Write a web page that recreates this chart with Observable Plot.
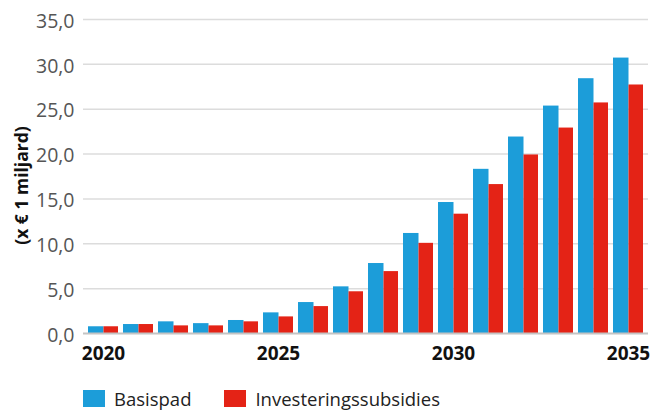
<!DOCTYPE html>
<html>
<head>
<meta charset="utf-8">
<script src="https://cdn.jsdelivr.net/npm/d3@7"></script>
<script src="https://cdn.jsdelivr.net/npm/@observablehq/plot@0.6"></script>
<style>
  body { margin: 0; background: #fff; font-family: "Open Sans", sans-serif; }
  #chart svg { display: block; }
  .legend { display: flex; align-items: center; margin-left: 83px; margin-top: 14px; font-size: 18.5px; color: #222; }
  .legend .sw { width: 22px; height: 17px; display: inline-block; margin-right: 9px; }
  .legend .item { display: flex; align-items: center; margin-right: 33px; }
</style>
</head>
<body>
<div id="chart"></div>
<script>
const years = [2020, 2021, 2022, 2023, 2024, 2025, 2026, 2027, 2028, 2029, 2030, 2031, 2032, 2033, 2034, 2035];
const basispad = [0.75, 1.0, 1.3, 1.1, 1.45, 2.3, 3.45, 5.2, 7.8, 11.15, 14.6, 18.3, 21.9, 25.35, 28.4, 30.7];
const subsidies = [0.75, 1.0, 0.85, 0.85, 1.3, 1.85, 3.0, 4.65, 6.9, 10.05, 13.3, 16.6, 19.9, 22.9, 25.7, 27.7];
const seriesNames = ["Basispad", "Investeringssubsidies"];
const colors = ["#1c9dd9", "#e42316"];
const yTicks = [0, 5, 10, 15, 20, 25, 30, 35];
const xTicks = [2020, 2025, 2030, 2035];

const dataB = years.map((y, i) => ({year: y, value: basispad[i]}));
const dataS = years.map((y, i) => ({year: y, value: subsidies[i]}));

const fmt = d => d.toFixed(1).replace(".", ",");

const plot = Plot.plot({
  width: 652,
  height: 372,
  marginLeft: 83,
  marginRight: 4,
  marginTop: 19,
  marginBottom: 39,
  style: {fontFamily: "Open Sans, sans-serif", background: "#fff"},
  x: {type: "band", domain: years, paddingInner: 0.15, paddingOuter: 0.075},
  y: {domain: [0, 35]},
  marks: [
    Plot.ruleY(yTicks.filter(d => d > 0), {stroke: "#dcdcdc", strokeWidth: 1.5}),
    Plot.barY(dataB, {x: "year", y: "value", fill: colors[0], insetRight: 14.5}),
    Plot.barY(dataS, {x: "year", y: "value", fill: colors[1], insetLeft: 15.5}),
    Plot.ruleY([0], {stroke: "#c4c4c4", strokeWidth: 2}),
    Plot.axisY({ticks: yTicks, tickFormat: fmt, tickSize: 0, tickPadding: 9, dy: 2, fontSize: 19.5, fill: "#555", label: null}),
    Plot.axisX({ticks: xTicks, tickFormat: d => String(d), tickSize: 0, tickPadding: 13, fontSize: 19, fontWeight: "bold", fill: "#111", label: null}),
    Plot.text(["(x € 1 miljard)"], {frameAnchor: "left", rotate: -90, dx: -61, dy: 9, textAnchor: "middle", lineAnchor: "middle", fontSize: 17.5, fontWeight: "bold", fill: "#111"})
  ]
});
document.getElementById("chart").appendChild(plot);

const legend = document.createElement("div");
legend.className = "legend";
seriesNames.forEach((name, i) => {
  const item = document.createElement("span");
  item.className = "item";
  const sw = document.createElement("span");
  sw.className = "sw";
  sw.style.background = colors[i];
  item.appendChild(sw);
  item.appendChild(document.createTextNode(name));
  legend.appendChild(item);
});
document.getElementById("chart").appendChild(legend);
</script>
</body>
</html>
